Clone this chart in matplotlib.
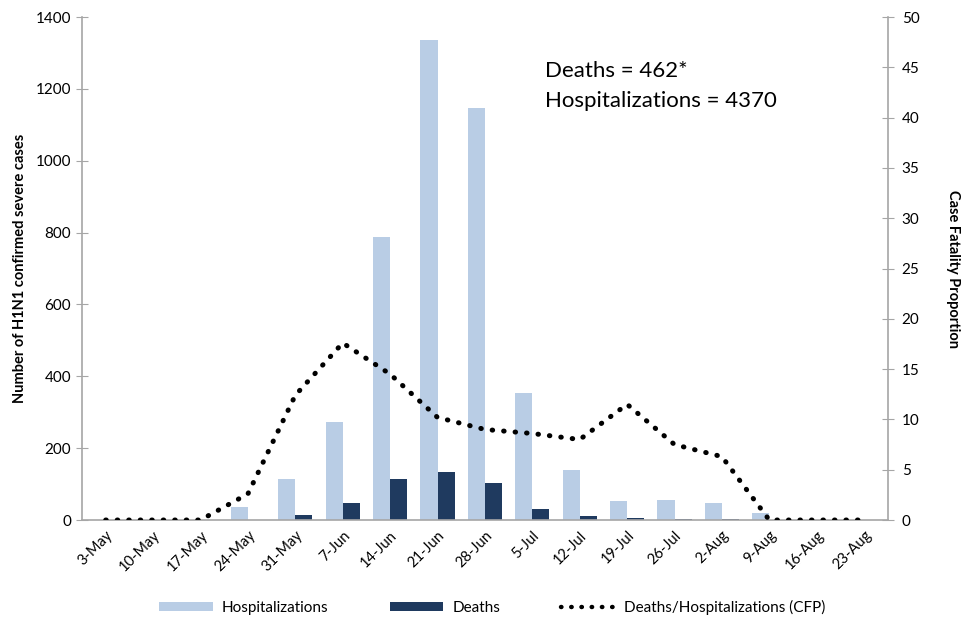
import matplotlib
matplotlib.use("Agg")
import matplotlib.pyplot as plt
import numpy as np
from matplotlib.lines import Line2D
from matplotlib.patches import Patch

weeks = ["3-May", "10-May", "17-May", "24-May", "31-May", "7-Jun", "14-Jun", "21-Jun",
         "28-Jun", "5-Jul", "12-Jul", "19-Jul", "26-Jul", "2-Aug", "9-Aug", "16-Aug", "23-Aug"]
hospitalizations = [0, 0, 0, 37, 115, 272, 787, 1335, 1147, 353, 140, 52, 55, 47, 20, 0, 0]
deaths = [0, 0, 0, 0, 15, 48, 113, 133, 102, 30, 11, 6, 4, 3, 0, 0, 0]
cfp = [0, 0, 0, 2.6, 12.4, 17.6, 14.5, 10.2, 9.0, 8.6, 8.0, 11.5, 7.5, 6.3, 0, 0, 0]
left_ticks = [0, 200, 400, 600, 800, 1000, 1200, 1400]
right_ticks = [0, 5, 10, 15, 20, 25, 30, 35, 40, 45, 50]

plt.rcParams['font.family'] = ['Lato', 'DejaVu Sans']

hosp_color = "#B9CDE5"
death_color = "#1F3A5F"
axis_color = "#A6A6A6"
dot_style = (0, (0.1, 2.2))

fig = plt.figure(figsize=(9.65, 6.3), dpi=100)
ax = fig.add_axes([0.085, 0.1746, 0.835, 0.7984])
x = np.arange(len(weeks))
w = 0.36
ax.bar(x - w / 2, hospitalizations, width=w, color=hosp_color, zorder=2)
ax.bar(x + w / 2, deaths, width=w, color=death_color, zorder=2)
ax.set_xlim(-0.5, len(weeks) - 0.5)
ax.set_ylim(0, 1400)
ax.set_yticks(left_ticks)
ax.set_xticks(x)
ax.set_xticklabels(weeks, rotation=45, ha="right", rotation_mode="anchor", fontsize=10.5)
ax.tick_params(axis="x", length=0, pad=6)
ax.tick_params(axis="y", direction="inout", length=8, color=axis_color, labelsize=11, pad=4)
ax.set_ylabel("Number of H1N1 confirmed severe cases", fontsize=10.5, fontweight="bold", labelpad=6)
for s in ["top", "right"]:
    ax.spines[s].set_visible(False)
for s in ["left", "bottom"]:
    ax.spines[s].set_color(axis_color)
    ax.spines[s].set_linewidth(1.2)

ax2 = ax.twinx()
ax2.plot(x, cfp, color="black", linestyle=dot_style, linewidth=3.6, dash_capstyle="round",
         solid_capstyle="round", zorder=3)
ax2.set_ylim(0, 50)
ax2.set_yticks(right_ticks)
ax2.tick_params(axis="y", direction="inout", length=8, color=axis_color, labelsize=11, pad=6)
ax2.set_ylabel("Case Fatality Proportion", fontsize=10.5, fontweight="bold", rotation=270, labelpad=29)
for s in ["top", "left", "bottom"]:
    ax2.spines[s].set_visible(False)
ax2.spines["right"].set_color(axis_color)
ax2.spines["right"].set_linewidth(1.2)

fig.text(0.565, 0.888, "Deaths = 462*", fontsize=16, va="center", ha="left")
fig.text(0.565, 0.84, "Hospitalizations = 4370", fontsize=16, va="center", ha="left")

handles = [Patch(facecolor=hosp_color, label="Hospitalizations"),
           Patch(facecolor=death_color, label="Deaths"),
           Line2D([0], [0], color="black", linestyle=dot_style, linewidth=3.2,
                  dash_capstyle="round", label="Deaths/Hospitalizations (CFP)")]
fig.legend(handles=handles, loc="center", bbox_to_anchor=(0.51, 0.036), ncol=3, frameon=False,
           fontsize=11, handlelength=3.5, handleheight=0.6, columnspacing=4, handletextpad=0.6)

fig.savefig("out.png", dpi=100)
